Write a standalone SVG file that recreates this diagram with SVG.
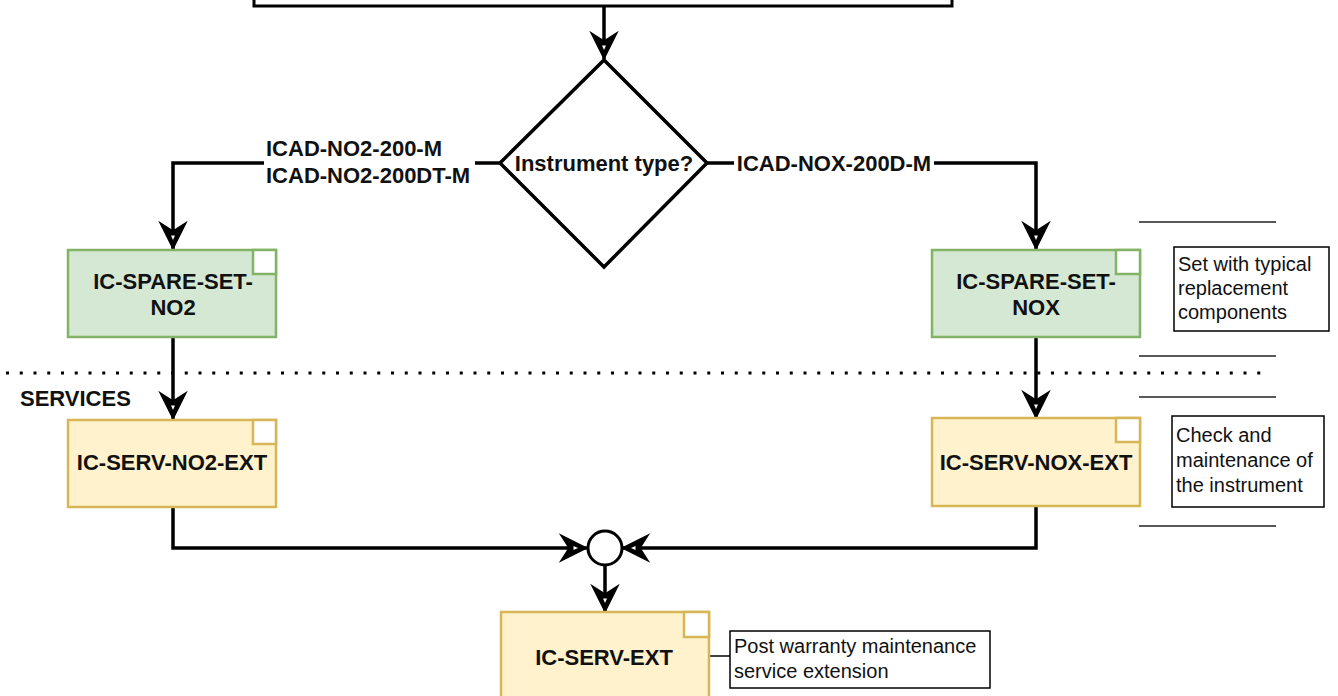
<svg xmlns="http://www.w3.org/2000/svg" width="1338" height="696" viewBox="0 0 1338 696">
<defs>
<marker id="arr" markerUnits="userSpaceOnUse" markerWidth="40" markerHeight="40" viewBox="-30 -20 40 40" refX="0" refY="0" orient="auto" overflow="visible">
<path d="M -2 0 L -24 -11 L -17 0 L -24 11 Z" fill="#000" stroke="#000" stroke-width="3" stroke-linejoin="miter"/>
<path d="M -9 0 L -13.5 -2 L -13.5 2 Z" fill="#fff"/>
</marker>
<style>
.edge{fill:none;stroke:#000;stroke-width:3.5;}
.bold{font-family:"Liberation Sans",Arial,sans-serif;font-weight:bold;font-size:22px;fill:#111;}
.reg{font-family:"Liberation Sans",Arial,sans-serif;font-size:20px;fill:#111;}
.green{fill:#d5e8d4;stroke:#82b366;stroke-width:2.5;}
.greensq{fill:#fff;stroke:#82b366;stroke-width:2.5;}
.yellow{fill:#fff2cc;stroke:#d6b656;stroke-width:2.5;}
.yellowsq{fill:#fff;stroke:#d6b656;stroke-width:2.5;}
.note{fill:#fff;stroke:#000;stroke-width:1.5;}
.thin{stroke:#222;stroke-width:1.5;fill:none;}
</style>
</defs>
<rect width="1338" height="696" fill="#fff"/>

<g id="separator">
<line x1="6" y1="373" x2="1262" y2="373" stroke="#000" stroke-width="3" stroke-dasharray="3 10.75"/>
<text class="bold" x="20" y="406">SERVICES</text>
</g>

<g id="rules">
<line class="thin" x1="1139" y1="222" x2="1276" y2="222"/>
<line class="thin" x1="1139" y1="356" x2="1276" y2="356"/>
<line class="thin" x1="1139" y1="397" x2="1276" y2="397"/>
<line class="thin" x1="1139" y1="526" x2="1276" y2="526"/>
</g>

<g id="connectors">
<path class="edge" d="M 604 6 L 604 59" marker-end="url(#arr)"/>
<path class="edge" d="M 500 163 L 173 163 L 173 249" marker-end="url(#arr)"/>
<path class="edge" d="M 707 163 L 1036 163 L 1036 249" marker-end="url(#arr)"/>
<path class="edge" d="M 173 337 L 173 419" marker-end="url(#arr)"/>
<path class="edge" d="M 1036 337 L 1036 418" marker-end="url(#arr)"/>
<path class="edge" d="M 173 507 L 173 548 L 587 548" marker-end="url(#arr)"/>
<path class="edge" d="M 1036 506 L 1036 548 L 622 548" marker-end="url(#arr)"/>
<path class="edge" d="M 605 565 L 605 612" marker-end="url(#arr)"/>
<line x1="709" y1="656" x2="730" y2="656" stroke="#000" stroke-width="1.5"/>
<rect x="264" y="136" width="211" height="51" fill="#fff"/>
<text class="bold" x="266" y="156">ICAD-NO2-200-M</text>
<text class="bold" x="266" y="183">ICAD-NO2-200DT-M</text>
<rect x="734" y="150" width="200" height="26" fill="#fff"/>
<text class="bold" x="834" y="171" text-anchor="middle">ICAD-NOX-200D-M</text>
</g>

<g id="top-box">
<rect x="254" y="-80" width="698" height="86" fill="#fff" stroke="#000" stroke-width="3"/>
</g>

<g id="decision">
<polygon points="604,60 707,163 604,267 500,163" fill="#fff" stroke="#000" stroke-width="3.5"/>
<text class="bold" x="604" y="171" text-anchor="middle">Instrument type?</text>
</g>

<g id="spare-no2">
<rect class="green" x="68" y="250" width="208" height="87"/>
<rect class="greensq" x="253" y="250" width="23" height="24"/>
<text class="bold" x="173" y="289" text-anchor="middle">IC-SPARE-SET-</text>
<text class="bold" x="173" y="315" text-anchor="middle">NO2</text>
</g>

<g id="spare-nox">
<rect class="green" x="932" y="250" width="208" height="87"/>
<rect class="greensq" x="1116" y="250" width="24" height="24"/>
<text class="bold" x="1036" y="289" text-anchor="middle">IC-SPARE-SET-</text>
<text class="bold" x="1036" y="315" text-anchor="middle">NOX</text>
</g>

<g id="serv-no2">
<rect class="yellow" x="68" y="420" width="208" height="87"/>
<rect class="yellowsq" x="253" y="420" width="23" height="24"/>
<text class="bold" x="172" y="470" text-anchor="middle">IC-SERV-NO2-EXT</text>
</g>

<g id="serv-nox">
<rect class="yellow" x="932" y="418" width="208" height="88"/>
<rect class="yellowsq" x="1116" y="418" width="24" height="24"/>
<text class="bold" x="1036" y="470" text-anchor="middle">IC-SERV-NOX-EXT</text>
</g>

<g id="merge">
<circle cx="605" cy="548" r="17" fill="#fff" stroke="#000" stroke-width="3"/>
</g>

<g id="serv-ext">
<rect class="yellow" x="501" y="612" width="208" height="90"/>
<rect class="yellowsq" x="684" y="612" width="25" height="25"/>
<text class="bold" x="604" y="665" text-anchor="middle">IC-SERV-EXT</text>
</g>

<g id="note-spare">
<rect class="note" x="1174" y="247" width="155" height="84"/>
<text class="reg" x="1178" y="271">Set with typical</text>
<text class="reg" x="1178" y="295">replacement</text>
<text class="reg" x="1178" y="319">components</text>
</g>

<g id="note-serv">
<rect class="note" x="1172" y="416" width="152" height="91"/>
<text class="reg" x="1176" y="442">Check and</text>
<text class="reg" x="1176" y="467">maintenance of</text>
<text class="reg" x="1176" y="492">the instrument</text>
</g>

<g id="note-ext">
<rect class="note" x="730" y="631" width="260" height="57"/>
<text class="reg" x="734" y="653">Post warranty maintenance</text>
<text class="reg" x="734" y="678">service extension</text>
</g>
</svg>
